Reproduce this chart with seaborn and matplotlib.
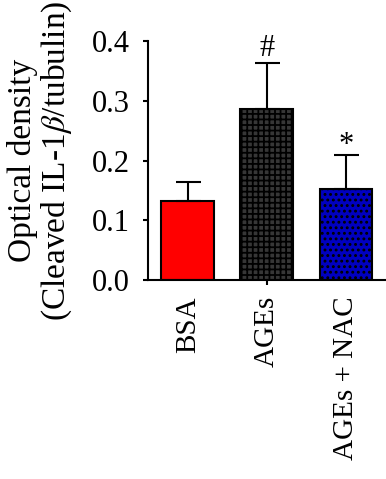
import matplotlib
matplotlib.use("Agg")
import matplotlib.pyplot as plt
import seaborn as sns
import pandas as pd

categories = ["BSA", "AGEs", "AGEs + NAC"]
means = [0.132, 0.286, 0.152]
errors = [0.033, 0.077, 0.057]
marks = ["", "#", "*"]
yticks = [0.0, 0.1, 0.2, 0.3, 0.4]

sns.set_theme(style="ticks")
plt.rcParams["font.family"] = ["Liberation Serif", "DejaVu Serif"]
plt.rcParams["mathtext.fontset"] = "stix"
plt.rcParams["hatch.linewidth"] = 1.3
for k in ["text.color", "axes.labelcolor", "xtick.color", "ytick.color", "axes.edgecolor"]:
    plt.rcParams[k] = "black"

df = pd.DataFrame({"group": categories, "value": means})

fig = plt.figure(figsize=(3.86, 4.79), dpi=100)
ax = fig.add_axes([0.383, 0.4154, 0.617, 0.4986])

sns.barplot(data=df, x="group", y="value", hue="group",
            palette=["#ff0000", "#363636", "#0000c0"], saturation=1, width=0.67,
            edgecolor="black", linewidth=1.5, errorbar=None, legend=False, ax=ax)

hatches = ["", "+++", "..."]
for p, h in zip(ax.patches, hatches):
    p.set_hatch(h)

ax.errorbar(range(len(categories)), means, yerr=[[0]*3, errors], fmt="none",
            ecolor="black", elinewidth=1.5, capsize=9, capthick=1.5, zorder=1)

mark_offsets = {"#": 0.013, "*": 0.004}
for i, (m, e, s) in enumerate(zip(means, errors, marks)):
    if s:
        ax.text(i, m + e + mark_offsets[s], s, ha="center", va="baseline", fontsize=22)

ax.set_xlim(-0.506, 2.506)
ax.set_ylim(0, 0.4)
ax.set_yticks(yticks)
ax.set_yticklabels([f"{t:.1f}" for t in yticks])
ax.set_xticks(range(len(categories)))
ax.set_xticklabels(categories, rotation=90)
for i, t in enumerate(ax.xaxis.get_major_ticks()):
    if i != 1:
        t.tick1line.set_visible(False)

ax.tick_params(axis="y", labelsize=22, width=1.5, length=3.6, pad=9.5)
ax.tick_params(axis="x", labelsize=21, width=1.5, length=3.6, pad=8)
for sp in ["top", "right"]:
    ax.spines[sp].set_visible(False)
for sp in ["left", "bottom"]:
    ax.spines[sp].set_linewidth(1.5)

ax.set_xlabel("")
ax.set_ylabel("Optical density\n(Cleaved IL-1$\\beta$/tubulin)", fontsize=24)
ax.yaxis.label.set_linespacing(1.05)
ax.yaxis.set_label_coords(-0.31, 0.5)

fig.savefig("out.png", dpi=100)
